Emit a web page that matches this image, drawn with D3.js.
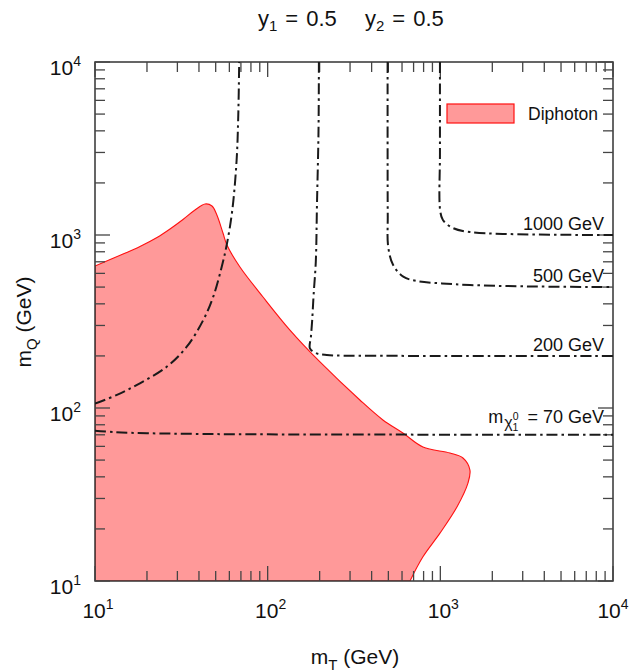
<!DOCTYPE html>
<html>
<head>
<meta charset="utf-8">
<script src="https://cdn.jsdelivr.net/npm/d3@7"></script>
<style>
  html, body { margin: 0; padding: 0; background: #fff; }
  svg { display: block; }
  text { font-family: "Liberation Sans", Arial, Helvetica, sans-serif; fill: #111; }
</style>
</head>
<body>
<svg id="chart" width="631" height="672"></svg>
<script>
// ---------------- DATA ----------------
const xDomain = [10, 10000];
const yDomain = [10, 10000];
const decadeExponents = [1, 2, 3, 4];

// Diphoton excluded region boundary (mT, mQ in GeV)
const diphotonMT = [10, 14.53, 18.22, 22.86, 27.19, 32.33, 37.93, 43.4, 47.6, 50.8, 55.1, 58.1, 69.1, 94.0, 134.6, 200.9, 342, 465, 607, 793, 1137, 1352, 1484, 1445, 1248, 995, 793, 667];
const diphotonMQ = [662, 776, 858, 967, 1083, 1229, 1395, 1511, 1471, 1305, 1027, 875, 653, 438, 282, 184.5, 111.2, 85.3, 71.7, 59.5, 54.9, 51.4, 43.8, 36.8, 26.8, 18.9, 13.8, 10];

// Neutralino-mass contours
const c70aMT = [10, 13.4, 18.2, 26.0, 34.0, 42.4, 48.4, 54.2, 57.9, 62.4, 66.1, 67.6, 68.4];
const c70aMQ = [106, 119, 139, 173, 226, 323, 440, 656, 875, 1395, 2714, 5000, 10000];
const c70bMT = [10, 13, 20, 40, 100, 10000];
const c70bMQ = [74, 72.5, 71.5, 70.8, 70.4, 70];
const c200MT = [198, 197, 193, 190, 184.5, 181, 178, 175.7, 192, 220, 400, 10000];
const c200MQ = [10000, 4000, 1500, 700, 450, 320, 257, 221, 207, 202.4, 200.5, 200];
const c500MT = [495, 495, 496, 499, 533, 610, 729, 995, 1484, 3000, 10000];
const c500MQ = [10000, 3000, 1300, 855, 671, 574, 542, 526, 514, 505, 500];
const c1000MT = [995, 995, 997, 1035, 1183, 1484, 2303, 5000, 10000];
const c1000MQ = [10000, 3000, 1395, 1221, 1097, 1040, 1015, 1003, 1000];

const contourLevels = [70, 200, 500, 1000];
const contourLabels = ["= 70 GeV", "200 GeV", "500 GeV", "1000 GeV"];
const legendLabel = "Diphoton";

// ---------------- LAYOUT ----------------
const svg = d3.select("#chart");
const L = 95, R = 613, T = 62, B = 581;
const x = d3.scaleLog().domain(xDomain).range([L, R]);
const y = d3.scaleLog().domain(yDomain).range([B, T]);

const zip = (a, b) => a.map((v, i) => [v, b[i]]);
const line = d3.line().x(d => x(d[0])).y(d => y(d[1])).curve(d3.curveCatmullRom.alpha(0.5));

svg.append("clipPath").attr("id", "clip").append("rect")
  .attr("x", L).attr("y", T).attr("width", R - L).attr("height", B - T);

// Region
const regionPts = zip(diphotonMT, diphotonMQ);
const regionPath = line(regionPts) + "L" + x(xDomain[0]) + "," + y(yDomain[0]) + "Z";
svg.append("path").attr("d", regionPath).attr("clip-path", "url(#clip)")
  .attr("fill", "#ff9999").attr("stroke", "#ff1010").attr("stroke-width", 1.1);

// Frame
svg.append("rect").attr("x", L).attr("y", T).attr("width", R - L).attr("height", B - T)
  .attr("fill", "none").attr("stroke", "#333").attr("stroke-width", 1.5);

// Ticks (inward, on all sides)
const majorLen = 15, minorLen = 10;
const tickVals = [];
for (let e = 1; e <= 4; e++) {
  for (let m = 1; m <= 9; m++) {
    const v = m * Math.pow(10, e);
    if (v > 10000) break;
    tickVals.push({ v, major: m === 1 });
  }
}
const tg = svg.append("g").attr("stroke", "#444").attr("stroke-width", 1.3);
tickVals.forEach(t => {
  const len = t.major ? majorLen : minorLen;
  const px = x(t.v), py = y(t.v);
  tg.append("line").attr("x1", px).attr("x2", px).attr("y1", B).attr("y2", B - len);
  tg.append("line").attr("x1", px).attr("x2", px).attr("y1", T).attr("y2", T + len);
  tg.append("line").attr("y1", py).attr("y2", py).attr("x1", L).attr("x2", L + len);
  tg.append("line").attr("y1", py).attr("y2", py).attr("x1", R).attr("x2", R - len);
});

// Contours
const dash = "11,4,2.5,4";
const contours = [zip(c70aMT, c70aMQ), zip(c70bMT, c70bMQ), zip(c200MT, c200MQ), zip(c500MT, c500MQ), zip(c1000MT, c1000MQ)];
const cg = svg.append("g").attr("clip-path", "url(#clip)");
contours.forEach(c => {
  cg.append("path").attr("d", line(c)).attr("fill", "none")
    .attr("stroke", "#1a1a1a").attr("stroke-width", 2).attr("stroke-dasharray", dash);
});

// Contour labels
const labelX = R - 9;
contourLevels.forEach((lv, i) => {
  const t = svg.append("text").attr("x", labelX).attr("y", y(lv) - (lv === 70 ? 12 : 5))
    .attr("text-anchor", "end").attr("font-size", 18);
  if (lv === 70) {
    t.append("tspan").text("m");
    t.append("tspan").attr("dx", 1).attr("dy", 5).attr("font-size", 16).text("χ");
    t.append("tspan").attr("dy", -8).attr("font-size", 10.5).text("0");
    t.append("tspan").attr("dx", -6).attr("dy", 11).attr("font-size", 10.5).text("1");
    t.append("tspan").attr("dx", 4).attr("dy", -8).text(" " + contourLabels[i]);
  } else {
    t.text(contourLabels[i]);
  }
});

// Legend
svg.append("rect").attr("x", 447).attr("y", 104).attr("width", 67).attr("height", 19)
  .attr("fill", "#ff9999").attr("stroke", "#ff1010").attr("stroke-width", 1.2);
svg.append("text").attr("x", 528).attr("y", 120).attr("font-size", 17.5).text(legendLabel);

// Tick labels
decadeExponents.forEach(e => {
  const v = Math.pow(10, e);
  const tx = svg.append("text").attr("x", x(v) + (e === 4 ? 0 : 3)).attr("y", 618).attr("text-anchor", "middle").attr("font-size", 21);
  tx.append("tspan").text("10");
  tx.append("tspan").attr("dy", -9).attr("font-size", 14).text(e);
  const ty = svg.append("text").attr("x", 81).attr("y", y(v) + 13).attr("text-anchor", "end").attr("font-size", 21);
  ty.append("tspan").text("10");
  ty.append("tspan").attr("dy", -9).attr("font-size", 14).text(e);
});

// Axis titles
const xt = svg.append("text").attr("x", 355).attr("y", 664).attr("text-anchor", "middle").attr("font-size", 21);
xt.append("tspan").text("m");
xt.append("tspan").attr("dy", 6).attr("font-size", 15).text("T");
xt.append("tspan").attr("dy", -6).text(" (GeV)");

const yt = svg.append("text").attr("transform", "translate(31,322) rotate(-90)").attr("text-anchor", "middle").attr("font-size", 21);
yt.append("tspan").text("m");
yt.append("tspan").attr("dy", 6).attr("font-size", 15).text("Q");
yt.append("tspan").attr("dy", -6).text(" (GeV)");

// Title (two parts)
const titleParts = [["y", "1", "0.5"], ["y", "2", "0.5"]];
const titleX = [258, 365];
titleParts.forEach((p, i) => {
  const t = svg.append("text").attr("x", titleX[i]).attr("y", 26).attr("font-size", 22);
  t.append("tspan").text(p[0]);
  t.append("tspan").attr("dy", 5).attr("font-size", 15).text(p[1]);
  t.append("tspan").attr("dx", 8).attr("dy", -5).text("=");
  t.append("tspan").attr("dx", 8).text(p[2]);
});
</script>
</body>
</html>
